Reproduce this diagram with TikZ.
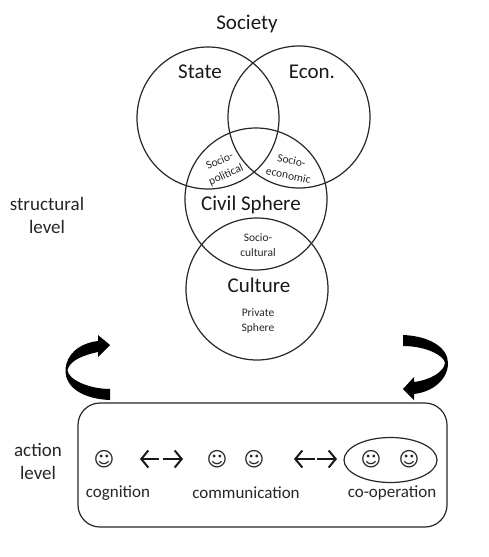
\documentclass[tikz,border=0pt]{standalone}
\usepackage{fontspec}
\setmainfont{Carlito}
\newfontfamily\faces{DejaVu Sans}
\usetikzlibrary{shapes.geometric,arrows.meta}
\tikzset{
  venn/.style={draw=black!85, line width=1.2pt, circle, minimum size=142pt, inner sep=0pt},
  biglabel/.style={font=\fontsize{21}{24}\selectfont, text=black!90},
  midlabel/.style={font=\fontsize{17}{23}\selectfont, align=center, text=black!85},
  sidelabel/.style={font=\fontsize{19}{23}\selectfont, align=center, text=black!85},
  smalllabel/.style={font=\fontsize{11.5}{15}\selectfont, align=center, text=black!85},
  face/.style={font=\fontsize{20}{22}\faces, text=black!85, inner sep=0pt},
  swaparrow/.style={line width=2pt, black!90, -{Straight Barb[length=7pt,width=17pt,line width=2pt]}},
}
\begin{document}
\begin{tikzpicture}[x=1pt,y=-1pt]
  \useasboundingbox (0,0) rectangle (488,557);
  % the four spheres
  \node[venn] (state) at (208,118) {};
  \node[venn] (econ) at (299,117) {};
  \node[venn] (civil) at (256,199) {};
  \node[venn] (culture) at (257,289) {};
  \node[biglabel] (society) at (247,24) {Society};
  \node[biglabel] (statelabel) at (200,72) {State};
  \node[biglabel] (econlabel) at (312,72) {Econ.};
  \node[biglabel] (civillabel) at (251,205) {Civil Sphere};
  \node[biglabel] (culturelabel) at (259,285) {Culture};
  \node[smalllabel, rotate=24] (sociopol) at (223,168) {Socio-\\political};
  \node[smalllabel, rotate=-12] (socioecon) at (290,168) {Socio-\\economic};
  \node[smalllabel] (sociocult) at (258,245) {Socio-\\cultural};
  \node[smalllabel] (private) at (258,321) {Private\\Sphere};
  \node[sidelabel] (structural) at (47,215) {structural\\level};
  \node[sidelabel] (action) at (38,461) {action\\level};
  % action level box
  \node[draw=black!85, line width=1.2pt, rounded corners=22pt, minimum width=369pt, minimum height=124pt] (actionbox) at (262.5,465) {};
  \node[draw=black!85, line width=1.2pt, ellipse, minimum width=93pt, minimum height=45pt, inner sep=0pt] (group) at (390.5,460) {};
  \node[face] (faceA) at (104,459) {☺};
  \node[face] (faceB) at (217,459) {☺};
  \node[face] (faceC) at (254,459) {☺};
  \node[face] (faceD) at (371,459) {☺};
  \node[face] (faceE) at (409,459) {☺};
  \node[midlabel] (cognition) at (118,493) {cognition};
  \node[midlabel] (communication) at (246,493) {communication};
  \node[midlabel] (cooperation) at (392,493) {co-operation};
  % double arrows
  \coordinate (firstmid) at (161,459);
  \coordinate (firstleft) at (140,459);
  \coordinate (firstright) at (183,459);
  \coordinate (secondmid) at (316,459);
  \coordinate (secondleft) at (294,459);
  \coordinate (secondright) at (337,459);
  \draw[swaparrow] ([xshift=-2pt]firstmid) -- (firstleft);
  \draw[swaparrow] ([xshift=2pt]firstmid) -- (firstright);
  \draw[swaparrow] ([xshift=-1pt]secondmid) -- (secondleft);
  \draw[swaparrow] ([xshift=1pt]secondmid) -- (secondright);
  % curved arrows between the levels
  \fill[black] (110,400) .. controls (84,399) and (65,388) .. (65.5,370)
    .. controls (66,354) and (80,343) .. (98,341) -- (98,335) -- (110,345) -- (98,357) -- (98,352)
    .. controls (84,355) and (70,360) .. (67.5,370) .. controls (68,380) and (90,389) .. (110,389) -- cycle;
  \fill[black] (403,335) .. controls (430,336) and (448,348) .. (448,363)
    .. controls (448,380) and (432,392) .. (414,394) -- (414,400) -- (403,389) -- (414,377) -- (414,382)
    .. controls (430,380) and (444,372) .. (445,363) .. controls (444,355) and (425,346) .. (403,346) -- cycle;
\end{tikzpicture}
\end{document}
